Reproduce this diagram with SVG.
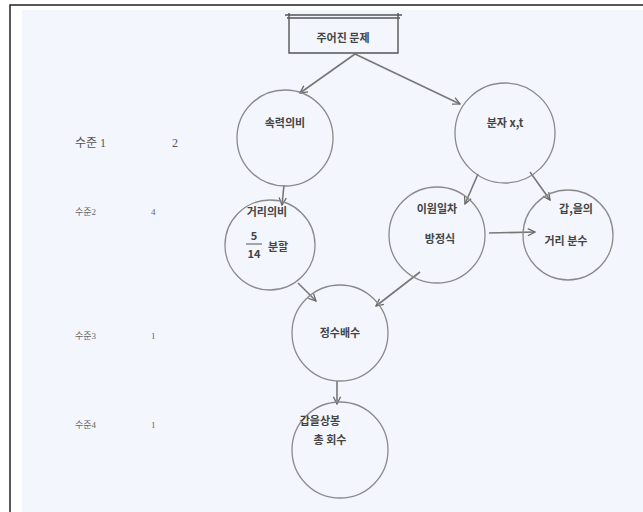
<svg xmlns="http://www.w3.org/2000/svg" width="643" height="512" viewBox="0 0 643 512">
<defs>
<marker id="ah" viewBox="0 0 10 10" refX="9" refY="5" markerWidth="9" markerHeight="9" orient="auto" markerUnits="userSpaceOnUse">
<path d="M1,1 L9,5 L1,9" fill="none" stroke="#666" stroke-width="1.4"/>
</marker>
</defs>
<style>
.node{fill:none;stroke:#8a8a8a;stroke-width:1.3}
.t{font-family:"Noto Sans CJK KR","Liberation Serif",serif;font-weight:bold;font-size:11px;fill:#444;text-anchor:middle}
.lv{font-family:"Liberation Serif","Noto Sans CJK KR",serif;font-size:9px;fill:#666}
.lv1{font-family:"Liberation Serif","Noto Sans CJK KR",serif;font-size:12px;fill:#555}
.c{stroke:#777;stroke-width:1.6;fill:none;marker-end:url(#ah)}
</style>
<rect x="0" y="0" width="643" height="512" fill="#ffffff"/>
<rect x="22" y="10" width="621" height="502" fill="#f3f6fc"/>
<path d="M10,512 L10,5 L643,5" fill="none" stroke="#222" stroke-width="1.5"/>
<g id="levels">
<text class="lv1" x="75" y="147">수준 1</text>
<text class="lv1" x="172" y="147">2</text>
<text class="lv" x="75" y="215">수준2</text>
<text class="lv" x="151" y="215">4</text>
<text class="lv" x="75" y="339">수준3</text>
<text class="lv" x="151" y="339">1</text>
<text class="lv" x="75" y="428">수준4</text>
<text class="lv" x="151" y="428">1</text>
</g>
<g id="connectors">
<line class="c" x1="355" y1="54" x2="300" y2="93"/>
<line class="c" x1="355" y1="54" x2="460" y2="104"/>
<line class="c" x1="284" y1="185" x2="282" y2="205"/>
<line class="c" x1="478" y1="174" x2="465" y2="204"/>
<line class="c" x1="530" y1="172" x2="550" y2="200"/>
<line class="c" x1="489" y1="233" x2="535" y2="232"/>
<line class="c" x1="298" y1="283" x2="316" y2="301"/>
<line class="c" x1="420" y1="272" x2="376" y2="306"/>
<line class="c" x1="337" y1="381" x2="337" y2="404"/>
</g>
<g id="n0">
<path d="M285,15 L402,15 M287,18 L400,18 M289,13 L289,53 L398,53 L398,13" fill="none" stroke="#555" stroke-width="1.4"/>
<text class="t" x="343" y="42">주어진 문제</text>
</g>
<g id="n1">
<circle class="node" cx="285" cy="138" r="48"/>
<text class="t" x="285" y="127">속력의비</text>
</g>
<g id="n2">
<circle class="node" cx="505" cy="133" r="50"/>
<text class="t" x="505" y="127">분자 x,t</text>
</g>
<g id="n3">
<circle class="node" cx="270" cy="245" r="45"/>
<text class="t" x="267" y="216">거리의비</text>
<text class="t" x="254" y="240">5</text>
<line x1="246" y1="244" x2="262" y2="244" stroke="#555" stroke-width="1"/>
<text class="t" x="254" y="258">14</text>
<text class="t" x="278" y="251">분할</text>
</g>
<g id="n4">
<circle class="node" cx="437" cy="235" r="48"/>
<text class="t" x="437" y="213">이원일차</text>
<text class="t" x="440" y="243">방정식</text>
</g>
<g id="n5">
<circle class="node" cx="568" cy="235" r="45"/>
<text class="t" x="576" y="213">갑,을의</text>
<text class="t" x="566" y="245">거리 분수</text>
</g>
<g id="n6">
<circle class="node" cx="340" cy="333" r="48"/>
<text class="t" x="340" y="337">정수배수</text>
</g>
<g id="n7">
<circle class="node" cx="340" cy="450" r="48"/>
<text class="t" x="320" y="425">갑을상봉</text>
<text class="t" x="330" y="444">총 회수</text>
</g>
</svg>
